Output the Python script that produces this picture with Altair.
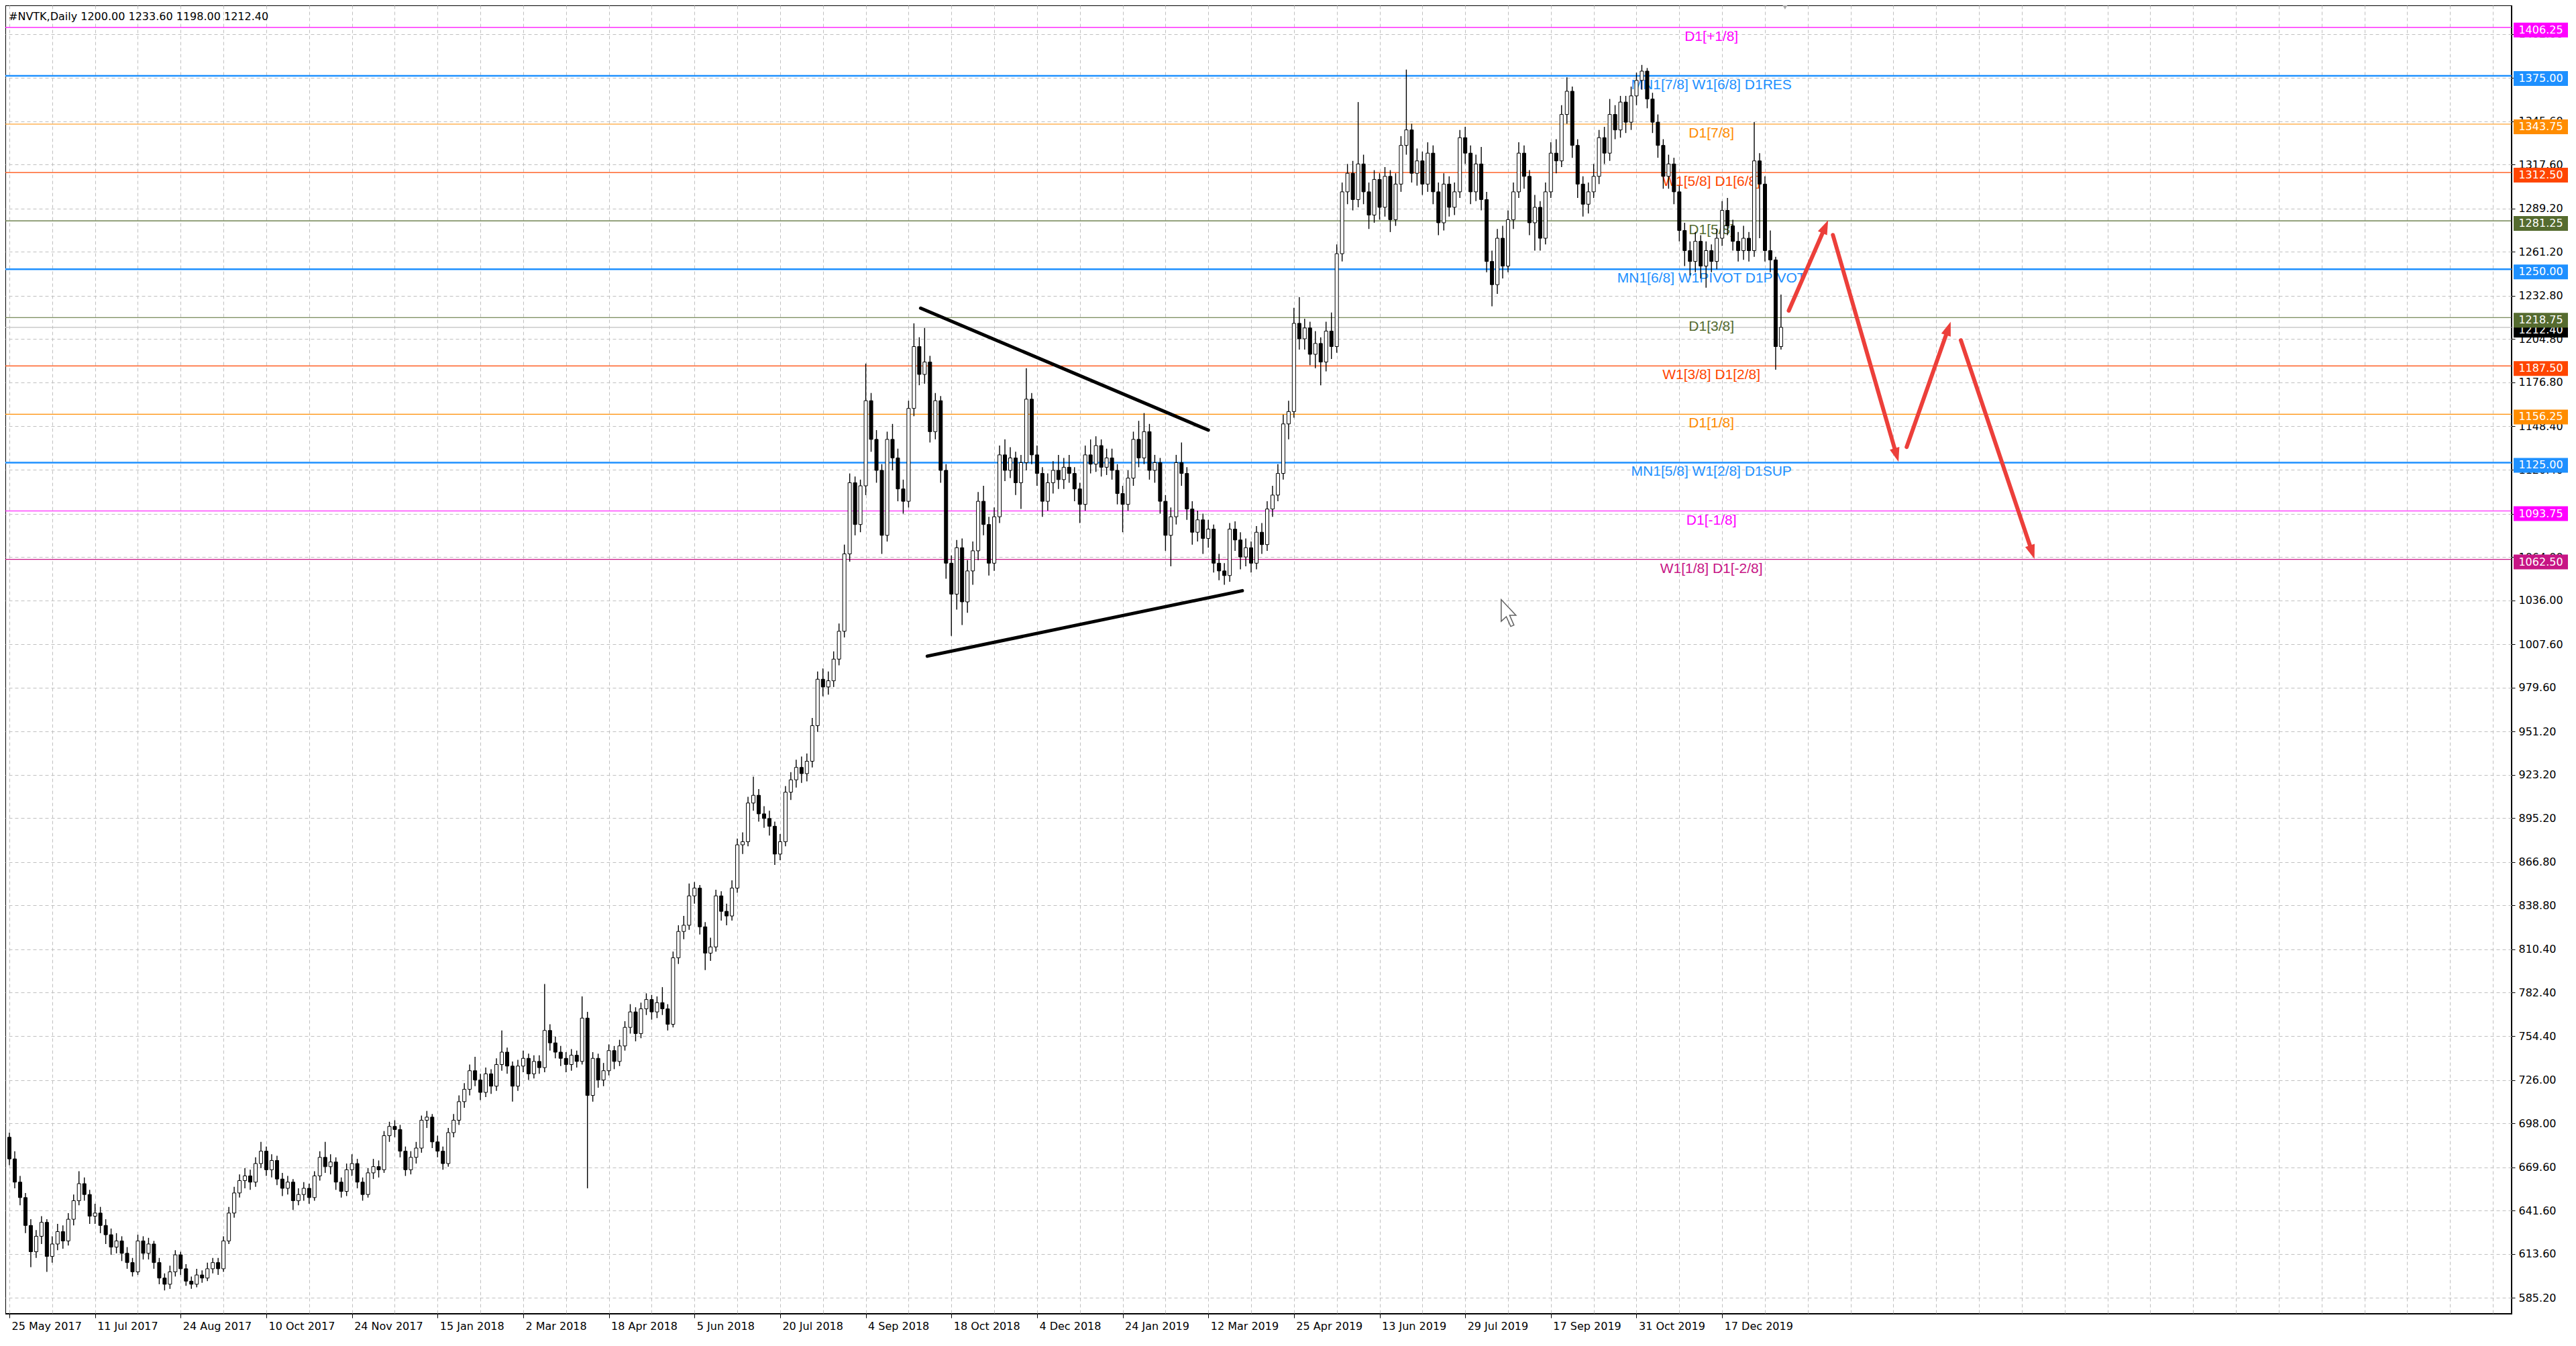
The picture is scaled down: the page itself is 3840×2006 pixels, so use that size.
import json
import math
import altair as alt
import pandas as pd

# ---------------- data ----------------
TITLE = "#NVTK,Daily  1200.00 1233.60 1198.00 1212.40"

DATE_LABELS = ["25 May 2017", "11 Jul 2017", "24 Aug 2017", "10 Oct 2017", "24 Nov 2017",
               "15 Jan 2018", "2 Mar 2018", "18 Apr 2018", "5 Jun 2018", "20 Jul 2018",
               "4 Sep 2018", "18 Oct 2018", "4 Dec 2018", "24 Jan 2019", "12 Mar 2019",
               "25 Apr 2019", "13 Jun 2019", "29 Jul 2019", "17 Sep 2019", "31 Oct 2019",
               "17 Dec 2019"]

Y_TICKS = [585.2, 613.6, 641.6, 669.6, 698.0, 726.0, 754.4, 782.4, 810.4, 838.8,
           866.8, 895.2, 923.2, 951.2, 979.6, 1007.6, 1036.0, 1064.0, 1092.0, 1120.4,
           1148.4, 1176.8, 1204.8, 1232.8, 1261.2, 1289.2, 1317.6, 1345.6, 1373.6, 1402.0]

LEVEL_PRICES = [1406.25, 1375.00, 1343.75, 1312.50, 1281.25, 1250.00,
                1218.75, 1187.50, 1156.25, 1125.00, 1093.75, 1062.50]
LEVEL_NAMES = ["D1[+1/8]", "MN1[7/8] W1[6/8] D1RES", "D1[7/8]", "W1[5/8] D1[6/8]",
               "D1[5/8]", "MN1[6/8] W1PIVOT D1PIVOT", "D1[3/8]", "W1[3/8] D1[2/8]",
               "D1[1/8]", "MN1[5/8] W1[2/8] D1SUP", "D1[-1/8]", "W1[1/8] D1[-2/8]"]
LAST_PRICE = 1212.40

# daily candles, one entry per two trading days (bar index 0, 2, 4, ...)
OPEN = [689, 675, 660, 650, 632, 615, 625, 634, 612, 620,
        628, 622, 636, 648, 659, 652, 638, 640, 632, 626,
        618, 622, 614, 608, 602, 622, 614, 620, 608, 598,
        594, 602, 613, 604, 596, 594, 600, 598, 604, 608,
        604, 622, 640, 653, 661, 664, 660, 672, 680, 668,
        674, 662, 656, 660, 648, 652, 656, 650, 664, 676,
        670, 673, 660, 654, 668, 672, 660, 652, 666, 670,
        668, 690, 696, 694, 680, 668, 676, 682, 700, 702,
        686, 680, 672, 692, 700, 712, 720, 732, 726, 718,
        730, 722, 736, 744, 735, 722, 735, 740, 730, 738,
        734, 758, 750, 744, 740, 736, 742, 738, 766, 716,
        740, 726, 732, 745, 738, 748, 760, 770, 756, 772,
        778, 770, 776, 772, 762, 805, 822, 826, 845, 850,
        825, 808, 812, 845, 835, 832, 850, 878, 880, 905,
        910, 898, 895, 890, 872, 880, 912, 920, 928, 924,
        932, 955, 985, 980, 984, 998, 1016, 1066, 1112, 1085,
        1110, 1165, 1140, 1120, 1078, 1140, 1128, 1108, 1100, 1160,
        1200, 1182, 1190, 1145, 1165, 1120, 1060, 1040, 1070, 1035,
        1055, 1068, 1100, 1085, 1060, 1090, 1130, 1120, 1128, 1112,
        1125, 1166, 1130, 1118, 1100, 1112, 1120, 1114, 1122, 1118,
        1108, 1098, 1130, 1124, 1136, 1122, 1128, 1120, 1105, 1098,
        1115, 1140, 1128, 1145, 1120, 1125, 1100, 1078, 1090, 1125,
        1118, 1095, 1080, 1088, 1076, 1082, 1060, 1055, 1052, 1082,
        1075, 1064, 1070, 1060, 1080, 1072, 1095, 1104, 1118, 1150,
        1158, 1215, 1205, 1212, 1195, 1202, 1190, 1210, 1200, 1260,
        1300, 1312, 1295, 1318, 1300, 1285, 1308, 1290, 1310, 1282,
        1305, 1330, 1340, 1312, 1320, 1305, 1325, 1300, 1280, 1305,
        1290, 1300, 1335, 1325, 1300, 1318, 1295, 1255, 1240, 1270,
        1252, 1282, 1300, 1325, 1310, 1280, 1290, 1270, 1300, 1325,
        1320, 1350, 1365, 1330, 1305, 1292, 1300, 1310, 1335, 1325,
        1350, 1340, 1358, 1345, 1362, 1372, 1378, 1360, 1345, 1330,
        1310, 1318, 1300, 1275, 1262, 1255, 1268, 1252, 1262, 1255,
        1270, 1288, 1278, 1268, 1262, 1270, 1262, 1320, 1305, 1262,
        1256, 1200]
CLOSE = [675, 660, 650, 632, 615, 625, 634, 612, 620, 628,
         622, 636, 648, 659, 652, 638, 640, 632, 626, 618,
         622, 614, 608, 602, 622, 614, 620, 608, 598, 594,
         602, 613, 604, 596, 594, 600, 598, 604, 608, 604,
         622, 640, 653, 661, 664, 660, 672, 680, 668, 674,
         662, 656, 660, 648, 652, 656, 650, 664, 676, 670,
         673, 660, 654, 668, 672, 660, 652, 666, 670, 668,
         690, 696, 694, 680, 668, 676, 682, 700, 702, 686,
         680, 672, 692, 700, 712, 720, 732, 726, 718, 730,
         722, 736, 744, 735, 722, 735, 740, 730, 738, 734,
         758, 750, 744, 740, 736, 742, 738, 766, 716, 740,
         726, 732, 745, 738, 748, 760, 770, 756, 772, 778,
         770, 776, 772, 762, 805, 822, 826, 845, 850, 825,
         808, 812, 845, 835, 832, 850, 878, 880, 905, 910,
         898, 895, 890, 872, 880, 912, 920, 928, 924, 932,
         955, 985, 980, 984, 998, 1016, 1066, 1112, 1085, 1110,
         1165, 1140, 1120, 1078, 1140, 1128, 1108, 1100, 1160, 1200,
         1182, 1190, 1145, 1165, 1120, 1060, 1040, 1070, 1035, 1055,
         1068, 1100, 1085, 1060, 1090, 1130, 1120, 1128, 1112, 1125,
         1166, 1130, 1118, 1100, 1112, 1120, 1114, 1122, 1118, 1108,
         1098, 1130, 1124, 1136, 1122, 1128, 1120, 1105, 1098, 1115,
         1140, 1128, 1145, 1120, 1125, 1100, 1078, 1090, 1125, 1118,
         1095, 1080, 1088, 1076, 1082, 1060, 1055, 1052, 1082, 1075,
         1064, 1070, 1060, 1080, 1072, 1095, 1104, 1118, 1150, 1158,
         1215, 1205, 1212, 1195, 1202, 1190, 1210, 1200, 1260, 1300,
         1312, 1295, 1318, 1300, 1285, 1308, 1290, 1310, 1282, 1305,
         1330, 1340, 1312, 1320, 1305, 1325, 1300, 1280, 1305, 1290,
         1300, 1335, 1325, 1300, 1318, 1295, 1255, 1240, 1270, 1252,
         1282, 1300, 1325, 1310, 1280, 1290, 1270, 1300, 1325, 1320,
         1350, 1365, 1330, 1305, 1292, 1300, 1310, 1335, 1325, 1350,
         1340, 1358, 1345, 1362, 1372, 1378, 1360, 1345, 1330, 1310,
         1318, 1300, 1275, 1262, 1255, 1268, 1252, 1262, 1255, 1270,
         1288, 1278, 1268, 1262, 1270, 1262, 1320, 1305, 1262, 1256,
         1200, 1212.4]
HIGH = [692, 680, 664, 653, 636, 629, 638, 636, 625, 633,
        632, 640, 652, 667, 663, 655, 646, 644, 636, 630,
        627, 625, 618, 611, 626, 625, 624, 622, 611, 601,
        606, 616, 615, 607, 599, 604, 603, 608, 611, 611,
        625, 644, 657, 665, 669, 668, 676, 686, 683, 678,
        677, 666, 664, 662, 656, 660, 659, 667, 680, 686,
        678, 676, 663, 672, 678, 675, 663, 669, 675, 674,
        693, 699, 700, 697, 683, 680, 686, 703, 706, 704,
        690, 683, 695, 704, 716, 724, 736, 741, 730, 734,
        733, 740, 758, 747, 738, 739, 745, 743, 742, 742,
        788, 762, 754, 748, 744, 746, 745, 780, 770, 744,
        743, 737, 749, 748, 752, 764, 775, 773, 776, 782,
        781, 780, 786, 775, 809, 826, 832, 853, 854, 852,
        828, 818, 849, 848, 840, 855, 882, 886, 909, 922,
        914, 903, 900, 893, 885, 916, 925, 933, 935, 937,
        960, 990, 992, 990, 1003, 1021, 1072, 1118, 1116, 1114,
        1189, 1170, 1146, 1124, 1145, 1150, 1134, 1114, 1165, 1215,
        1206, 1212, 1194, 1170, 1168, 1124, 1065, 1075, 1076, 1062,
        1074, 1106, 1110, 1090, 1096, 1136, 1140, 1135, 1132, 1130,
        1186, 1170, 1136, 1122, 1118, 1126, 1130, 1128, 1130, 1122,
        1112, 1136, 1140, 1142, 1140, 1134, 1134, 1124, 1110, 1120,
        1145, 1152, 1157, 1150, 1130, 1128, 1104, 1096, 1130, 1138,
        1122, 1100, 1094, 1092, 1088, 1085, 1066, 1060, 1086, 1087,
        1080, 1076, 1074, 1084, 1086, 1100, 1110, 1124, 1156, 1165,
        1225, 1232, 1218, 1216, 1210, 1206, 1216, 1222, 1266, 1306,
        1318, 1320, 1358, 1324, 1306, 1314, 1312, 1316, 1314, 1312,
        1336, 1379, 1344, 1328, 1326, 1332, 1330, 1306, 1312, 1310,
        1306, 1340, 1342, 1330, 1324, 1329, 1300, 1262, 1276, 1278,
        1288, 1306, 1332, 1330, 1314, 1298, 1294, 1306, 1332, 1334,
        1356, 1374, 1368, 1334, 1310, 1306, 1318, 1340, 1342, 1360,
        1356, 1362, 1362, 1368, 1377, 1382, 1380, 1364, 1350, 1334,
        1324, 1322, 1304, 1280, 1268, 1274, 1272, 1268, 1266, 1276,
        1294, 1296, 1282, 1274, 1278, 1274, 1345, 1325, 1310, 1275,
        1258, 1233.6]
LOW = [671, 656, 645, 627, 605, 611, 620, 602, 608, 616,
       617, 619, 632, 645, 648, 633, 633, 627, 620, 613,
       614, 609, 604, 599, 600, 610, 610, 604, 594, 590,
       591, 599, 600, 593, 591, 592, 595, 596, 601, 600,
       602, 620, 637, 650, 656, 655, 657, 669, 664, 663,
       658, 651, 652, 642, 645, 648, 646, 648, 661, 666,
       665, 655, 650, 651, 664, 656, 648, 650, 662, 663,
       666, 686, 689, 676, 664, 665, 672, 679, 695, 682,
       676, 668, 670, 689, 697, 708, 716, 722, 713, 715,
       717, 719, 732, 730, 712, 719, 731, 726, 727, 730,
       731, 745, 740, 735, 731, 732, 734, 736, 656, 712,
       721, 722, 729, 733, 735, 745, 756, 751, 753, 768,
       765, 766, 768, 758, 760, 801, 817, 823, 840, 820,
       797, 803, 809, 829, 826, 829, 847, 872, 877, 900,
       893, 889, 884, 865, 868, 877, 907, 915, 918, 919,
       928, 951, 974, 975, 980, 994, 1012, 1061, 1078, 1080,
       1104, 1132, 1112, 1066, 1074, 1120, 1100, 1092, 1096, 1155,
       1175, 1176, 1138, 1140, 1112, 1050, 1013, 1030, 1020, 1028,
       1046, 1062, 1078, 1052, 1055, 1086, 1113, 1115, 1104, 1095,
       1120, 1124, 1110, 1090, 1094, 1105, 1108, 1108, 1112, 1100,
       1086, 1094, 1118, 1119, 1116, 1117, 1114, 1098, 1080, 1094,
       1110, 1122, 1124, 1114, 1112, 1092, 1068, 1058, 1085, 1110,
       1088, 1072, 1074, 1066, 1070, 1054, 1049, 1046, 1048, 1068,
       1056, 1058, 1054, 1056, 1066, 1068, 1090, 1100, 1114, 1140,
       1154, 1198, 1198, 1188, 1186, 1175, 1184, 1192, 1196, 1255,
       1292, 1288, 1290, 1292, 1276, 1280, 1282, 1284, 1274, 1278,
       1300, 1324, 1306, 1304, 1298, 1300, 1292, 1272, 1275, 1284,
       1285, 1296, 1318, 1292, 1294, 1288, 1248, 1226, 1234, 1244,
       1248, 1276, 1296, 1302, 1272, 1262, 1262, 1266, 1296, 1312,
       1316, 1344, 1322, 1296, 1284, 1286, 1296, 1305, 1318, 1320,
       1334, 1335, 1338, 1340, 1356, 1366, 1354, 1338, 1322, 1302,
       1302, 1292, 1268, 1252, 1246, 1248, 1244, 1238, 1248, 1250,
       1265, 1272, 1262, 1255, 1256, 1255, 1258, 1270, 1255, 1248,
       1185, 1198]

# hand-drawn annotations (bar index, price)
TRI_BAR_FROM = [340.5, 343.0]
TRI_PRICE_FROM = [1224.8, 999.9]
TRI_BAR_TO = [448.0, 460.7]
TRI_PRICE_TO = [1146.0, 1042.2]

ARROW_BAR_FROM = [664.9, 681.4, 708.95, 729.2]
ARROW_PRICE_FROM = [1223.2, 1272.1, 1135.1, 1204.1]
ARROW_BAR_TO = [679.6, 705.9, 725.4, 756.7]
ARROW_PRICE_TO = [1281.6, 1125.5, 1216.0, 1062.8]

CURSOR_BAR = [560.2]
CURSOR_PRICE = [1027.8]

# ---------------- layout & style ----------------
W, H = 3736, 1950
X_MIN, X_MAX = -0.25, 933.75
Y_MIN, Y_MAX = 574.9, 1420.5
PX_BAR = W / (X_MAX - X_MIN)
PX_PRICE = H / (Y_MAX - Y_MIN)
LABEL_BAR = 636
AXIS_FONT = "DejaVu Sans"
LEVEL_FONT = "Liberation Sans"
RED = "#EC3F3A"
LEVEL_COLORS = ["#FF00FF", "#1E90FF", "#FF8C00", "#FF4500", "#556B2F", "#1E90FF",
                "#556B2F", "#FF4500", "#FF8C00", "#1E90FF", "#FF00FF", "#C71585"]
LEVEL_WIDTHS = [1.2, 2.5, 1.2, 1.2, 1.2, 2.5, 1.2, 1.2, 1.2, 2.5, 1.2, 1.2]
CURSOR_SHAPE = "M-0.55,-1L-0.55,0.62L-0.17,0.27L0.16,1L0.4,0.9L0.08,0.17L0.55,0.17Z"

xs = alt.Scale(domain=[X_MIN, X_MAX], nice=False, zero=False)
ys = alt.Scale(domain=[Y_MIN, Y_MAX], nice=False, zero=False)

n = len(OPEN)
candles = pd.DataFrame({
    "bar": list(range(0, 2 * n, 2)),
    "o": OPEN, "h": HIGH, "l": LOW, "c": CLOSE,
})

levels = pd.DataFrame({
    "price": LEVEL_PRICES, "name": LEVEL_NAMES,
    "color": LEVEL_COLORS, "w": LEVEL_WIDTHS,
    "label": [f"{p:.2f}" for p in LEVEL_PRICES],
})

lab_expr = ("datum.value % 32 == 0 && datum.value <= " + str(32 * (len(DATE_LABELS) - 1))
            + " ? " + json.dumps(DATE_LABELS) + "[datum.value / 32] : ''")

x_axis = alt.Axis(
    values=list(range(0, 934, 16)), grid=True, gridColor="#C0C0C0", gridDash=[5, 4],
    gridWidth=1, domain=False, ticks=True, tickColor="black", tickSize=6,
    tickOpacity={"condition": {"test": "datum.value % 32 == 0 && datum.value <= 640", "value": 1},
                 "value": 0},
    labelExpr=lab_expr, labelAlign="left", labelBaseline="top", labelPadding=4,
    labelOffset=3, labelFont=AXIS_FONT, labelFontSize=16, labelColor="black",
    labelOverlap=False, labelFlush=False, title=None,
)
y_axis = alt.Axis(
    orient="right", values=Y_TICKS, format=".2f", grid=True, gridColor="#C0C0C0",
    gridDash=[5, 4], gridWidth=1, domain=False, ticks=True, tickColor="black", tickSize=5,
    labelAlign="left", labelBaseline="middle", labelPadding=5, labelFont=AXIS_FONT,
    labelFontSize=16, labelColor="black", labelOverlap=False, labelFlush=False, title=None,
)


def X(field):
    return alt.X(field, scale=xs, axis=x_axis)


def Y(field):
    return alt.Y(field, scale=ys, axis=y_axis)


# level lines
level_rules = alt.Chart(levels).mark_rule().encode(
    y=Y("price:Q"),
    color=alt.Color("color:N", scale=None),
    strokeWidth=alt.StrokeWidth("w:Q", scale=None),
)
last_rule = alt.Chart(pd.DataFrame({"price": [LAST_PRICE]})).mark_rule(
    color="#C0C0C0", strokeWidth=1.2).encode(y=Y("price:Q"))

level_text = alt.Chart(levels).mark_text(
    font=LEVEL_FONT, fontSize=21, align="center", baseline="top", dy=3).encode(
    x=alt.datum(LABEL_BAR, scale=xs, axis=x_axis),
    y=Y("price:Q"),
    text="name:N",
    color=alt.Color("color:N", scale=None),
)

# candles
wicks = alt.Chart(candles).mark_rule(color="black", strokeWidth=1.4).encode(
    x=X("bar:Q"), y=Y("l:Q"), y2="h:Q",
)
bodies = alt.Chart(candles).mark_bar(size=5, stroke="black", strokeWidth=1).encode(
    x=X("bar:Q"), y=Y("o:Q"), y2="c:Q",
    fill=alt.condition("datum.c >= datum.o", alt.value("white"), alt.value("black")),
)

# triangle lines
tri = pd.DataFrame({"b1": TRI_BAR_FROM, "p1": TRI_PRICE_FROM,
                    "b2": TRI_BAR_TO, "p2": TRI_PRICE_TO})
tri_lines = alt.Chart(tri).mark_rule(color="black", strokeWidth=5, strokeCap="round").encode(
    x=X("b1:Q"), x2="b2:Q", y=Y("p1:Q"), y2="p2:Q",
)

# red arrows
HEAD_R = 12.0
rows = []
for b1, p1, b2, p2 in zip(ARROW_BAR_FROM, ARROW_PRICE_FROM, ARROW_BAR_TO, ARROW_PRICE_TO):
    dxs = (b2 - b1) * PX_BAR
    dys = -(p2 - p1) * PX_PRICE
    L = math.hypot(dxs, dys)
    ux, uy = dxs / L, dys / L
    cb = b2 - ux * HEAD_R / PX_BAR
    cp = p2 + uy * HEAD_R / PX_PRICE
    ang = math.degrees(math.atan2(dxs, -dys)) % 360
    rows.append({"b1": b1, "p1": p1, "cb": cb, "cp": cp, "ang": ang})
arrows = pd.DataFrame(rows)
arrow_shafts = alt.Chart(arrows).mark_rule(color=RED, strokeWidth=6, strokeCap="round").encode(
    x=X("b1:Q"), x2="cb:Q", y=Y("p1:Q"), y2="cp:Q",
)
arrow_heads = alt.Chart(arrows).mark_point(
    shape="M0,-1L0.62,0.75L-0.62,0.75Z", filled=True, color=RED, opacity=1,
    size=(2 * HEAD_R) ** 2, strokeWidth=0).encode(
    x=X("cb:Q"), y=Y("cp:Q"),
    angle=alt.Angle("ang:Q", scale=None),
)

# mouse pointer left on the screenshot
cursor = alt.Chart(pd.DataFrame({"b": CURSOR_BAR, "p": CURSOR_PRICE})).mark_point(
    shape=CURSOR_SHAPE, filled=True, fill="white", stroke="#606060", strokeWidth=1.5,
    opacity=1, size=1600).encode(x=X("b:Q"), y=Y("p:Q"))

# right-hand price tags
last_tag = alt.Chart(pd.DataFrame({"price": [LAST_PRICE], "label": [f"{LAST_PRICE:.2f}"]}))
last_box = last_tag.mark_tick(orient="horizontal", size=81, thickness=22, opacity=1,
                              color="black", yOffset=4).encode(
    x=alt.value(W + 43.5), y=Y("price:Q"))
last_txt = last_tag.mark_text(font=AXIS_FONT, fontSize=16, color="white", align="center",
                              baseline="middle", dy=4).encode(
    x=alt.value(W + 43.5), y=Y("price:Q"), text="label:N")
tag_box = alt.Chart(levels).mark_tick(orient="horizontal", size=81, thickness=22, opacity=1,
                                      yOffset=4).encode(
    x=alt.value(W + 43.5), y=Y("price:Q"),
    color=alt.Color("color:N", scale=None))
tag_txt = alt.Chart(levels).mark_text(font=AXIS_FONT, fontSize=16, color="white",
                                      align="center", baseline="middle", dy=4).encode(
    x=alt.value(W + 43.5), y=Y("price:Q"), text="label:N")

# title and shift marker
title = alt.Chart(pd.DataFrame({"t": [TITLE]})).mark_text(
    font=AXIS_FONT, fontSize=16, color="black", align="left", baseline="middle").encode(
    x=alt.value(5), y=alt.value(17), text="t:N")
shift_mark = alt.Chart(pd.DataFrame({"b": [663.5]})).mark_point(
    shape="triangle-down", filled=True, color="#A8A8A8", size=90, opacity=1).encode(
    x=X("b:Q"), y=alt.value(2))

chart = alt.layer(
    level_rules, last_rule, level_text, wicks, bodies, tri_lines, arrow_shafts, arrow_heads,
    cursor, last_box, last_txt, tag_box, tag_txt, title, shift_mark,
).properties(
    width=W, height=H,
    padding={"left": 0, "top": 0, "right": 86, "bottom": 30},
    autosize=alt.AutoSizeParams(type="none"),
    background="white",
).configure_view(
    stroke="black", strokeWidth=2,
)

chart.save("out.html", embed_options={"renderer": "svg", "actions": False})
